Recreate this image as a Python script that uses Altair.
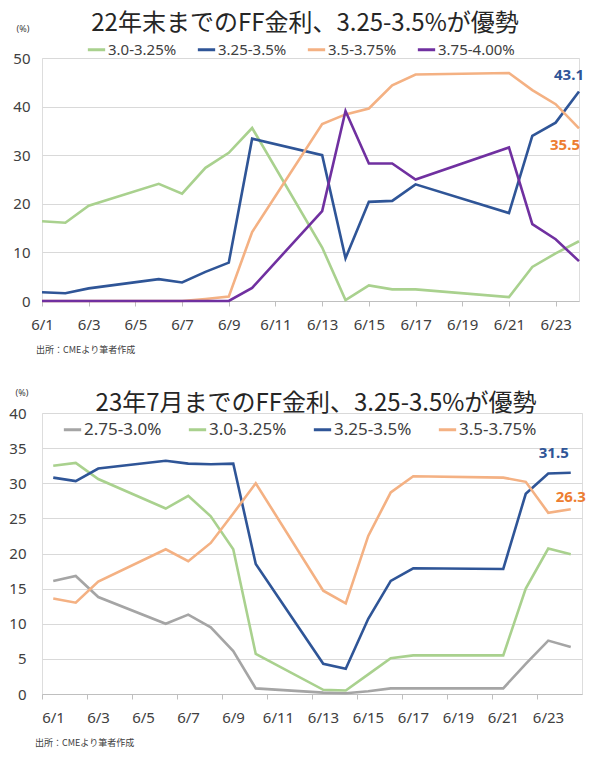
import altair as alt
import pandas as pd

# ---- data ----
days = [1, 2, 3, 6, 7, 8, 9, 10, 13, 14, 15, 16, 17, 21, 22, 23, 24]

top_series = ["3.0-3.25%", "3.25-3.5%", "3.5-3.75%", "3.75-4.00%"]
top_colors = ["#A9D18E", "#2F5597", "#F4B183", "#7030A0"]
top_300_325 = [16.4, 16.1, 19.6, 24.1, 22.1, 27.4, 30.5, 35.6, 11.0, 0.2, 3.2, 2.4, 2.4, 0.8, 7.0, 9.8, 12.3]
top_325_350 = [1.8, 1.6, 2.6, 4.5, 3.8, 6.0, 7.9, 33.4, 30.0, 8.8, 20.4, 20.6, 24.0, 18.1, 34.0, 36.7, 43.1]
top_350_375 = [0, 0, 0, 0, 0, 0.4, 0.9, 14.2, 36.4, 38.4, 39.6, 44.4, 46.6, 46.9, 43.4, 40.5, 35.5]
top_375_400 = [0, 0, 0, 0, 0, 0, 0, 2.7, 18.5, 39.1, 28.3, 28.3, 25.0, 31.6, 15.8, 12.7, 8.2]

bot_series = ["2.75-3.0%", "3.0-3.25%", "3.25-3.5%", "3.5-3.75%"]
bot_colors = ["#A5A5A5", "#A9D18E", "#2F5597", "#F4B183"]
bot_275_300 = [16.1, 16.8, 13.8, 10.0, 11.3, 9.5, 6.1, 0.8, 0.2, 0.1, 0.4, 0.8, 0.8, 0.8, 4.3, 7.6, 6.7]
bot_300_325 = [32.5, 32.9, 30.6, 26.4, 28.2, 25.3, 20.6, 5.7, 0.6, 0.5, 2.8, 5.1, 5.5, 5.5, 15.0, 20.7, 19.9]
bot_325_350 = [30.8, 30.3, 32.1, 33.2, 32.8, 32.7, 32.8, 18.5, 4.3, 3.6, 10.7, 16.1, 17.9, 17.8, 28.5, 31.4, 31.5]
bot_350_375 = [13.6, 13.0, 16.0, 20.6, 18.9, 21.5, 25.7, 30.0, 14.7, 12.9, 22.5, 28.7, 31.0, 30.8, 30.2, 25.8, 26.3]

top_yticks = [0, 10, 20, 30, 40, 50]
bot_yticks = [0, 5, 10, 15, 20, 25, 30, 35, 40]
x_tick_days = [1, 3, 5, 7, 9, 11, 13, 15, 17, 19, 21, 23]

top_title = "22年末までのFF金利、3.25-3.5%が優勢"
bot_title = "23年7月までのFF金利、3.25-3.5%が優勢"
source_note = "出所：CMEより筆者作成"


def long_df(series_names, values_lists, sfield, dfield, vfield):
    rows = []
    for name, vals in zip(series_names, values_lists):
        for d, v in zip(days, vals):
            rows.append({sfield: name, dfield: d, vfield: v})
    return pd.DataFrame(rows)


FONT = "Noto Sans"
CJK = "Noto Sans CJK JP"
TXT = "#404040"
GRID = "#D9D9D9"
AXIS = "#BFBFBF"


def panel(tag, df, series, colors, title, W, H, xdom, xshift, label_off,
          ymax, yticks, ypad, leg, title_pos, pct_pos, note_pos, labels, legend_font):
    s, d, v, xp = f"series_{tag}", f"day_{tag}", f"value_{tag}", f"xpos_{tag}"
    base = alt.Chart(df).transform_calculate(**{xp: f"datum.{d} + {xshift}"})
    x = alt.X(
        f"{xp}:Q",
        scale=alt.Scale(domain=xdom, nice=False, zero=False),
        axis=alt.Axis(
            values=x_tick_days,
            labelExpr="'6/' + datum.value",
            grid=False, ticks=True, tickSize=5, tickColor=AXIS,
            domainColor=AXIS, domainWidth=1, labelFontSize=15, labelFont=FONT,
            labelColor=TXT, labelPadding=11, labelOffset=label_off, title=None,
            labelFlush=False, labelOverlap=False,
        ),
    )
    y = alt.Y(
        f"{v}:Q",
        scale=alt.Scale(domain=[0, ymax], nice=False),
        axis=alt.Axis(
            values=yticks, tickCount=len(yticks), grid=True, gridColor=GRID,
            domain=False, ticks=False, labelFontSize=15, labelFont=FONT,
            labelColor=TXT, labelPadding=ypad, title=None, labelOverlap=False,
        ),
    )
    lines = base.mark_line(strokeWidth=2.6).encode(
        x=x, y=y,
        color=alt.Color(
            f"{s}:N",
            scale=alt.Scale(domain=series, range=colors),
            sort=series,
            legend=alt.Legend(
                orient="none", legendX=leg[0], legendY=leg[1], direction="horizontal",
                title=None, symbolType="stroke", symbolStrokeWidth=3, symbolSize=300,
                labelFontSize=legend_font, labelFont=FONT, labelColor=TXT,
                columnPadding=leg[2], labelOffset=1, padding=0,
            ),
        ),
    )
    layers = [lines]
    for (sname, txt_color, dx, dy) in labels:
        layers.append(
            base.transform_filter(
                (alt.datum[s] == sname) & (alt.datum[d] == 24)
            ).mark_text(
                dx=dx, dy=dy, color=txt_color, fontSize=15, fontWeight="bold", font=FONT
            ).encode(
                x=alt.X(f"{xp}:Q"), y=alt.Y(f"{v}:Q"),
                text=alt.Text(f"{v}:Q", format=".1f"),
            )
        )
    # static texts: title, unit, source
    txt = alt.Chart(pd.DataFrame({"t": [title]})).mark_text(
        fontSize=24, font=CJK, color="#262626", baseline="middle"
    ).encode(text="t:N", x=alt.value(title_pos[0]), y=alt.value(title_pos[1]))
    pct = alt.Chart(pd.DataFrame({"t": ["(%)"]})).mark_text(
        fontSize=9, font=FONT, color=TXT, baseline="middle"
    ).encode(text="t:N", x=alt.value(pct_pos[0]), y=alt.value(pct_pos[1]))
    note = alt.Chart(pd.DataFrame({"t": [source_note]})).mark_text(
        fontSize=9, font=CJK, color=TXT, baseline="middle", align="left"
    ).encode(text="t:N", x=alt.value(note_pos[0]), y=alt.value(note_pos[1]))
    layers += [txt, pct, note]
    return alt.layer(*layers).properties(width=W, height=H)


df_top = long_df(top_series, [top_300_325, top_325_350, top_350_375, top_375_400],
                 "series_a", "day_a", "value_a")
df_bot = long_df(bot_series, [bot_275_300, bot_300_325, bot_325_350, bot_350_375],
                 "series_b", "day_b", "value_b")

top = panel(
    "a", df_top, top_series, top_colors, top_title, 537, 243,
    [1, 24], 0, 0,
    50, top_yticks, 12, (44, -19, 14),
    (263, -34), (-19, -29), (-6, 292),
    [("3.25-3.5%", "#2F5597", -10, -17), ("3.5-3.75%", "#ED7D31", -14, 17)],
    15,
)
bot = panel(
    "b", df_bot, bot_series, bot_colors, bot_title, 540, 281,
    [1, 25], 0.5, 11,
    40, bot_yticks, 16, (20, 6, 20),
    (274, -9), (-20, -20), (-7, 330),
    [("3.25-3.5%", "#2F5597", -17, -20), ("3.5-3.75%", "#ED7D31", 0, -12)],
    17,
)

chart = alt.vconcat(top, bot, spacing=112, bounds="flush").resolve_scale(
    color="independent"
).resolve_legend(color="independent").properties(
    padding={"left": 0, "top": 3, "right": 0, "bottom": 0}
).configure_view(stroke=None).configure(background="white")

chart.save("out.html", embed_options={"renderer": "svg", "actions": False})
